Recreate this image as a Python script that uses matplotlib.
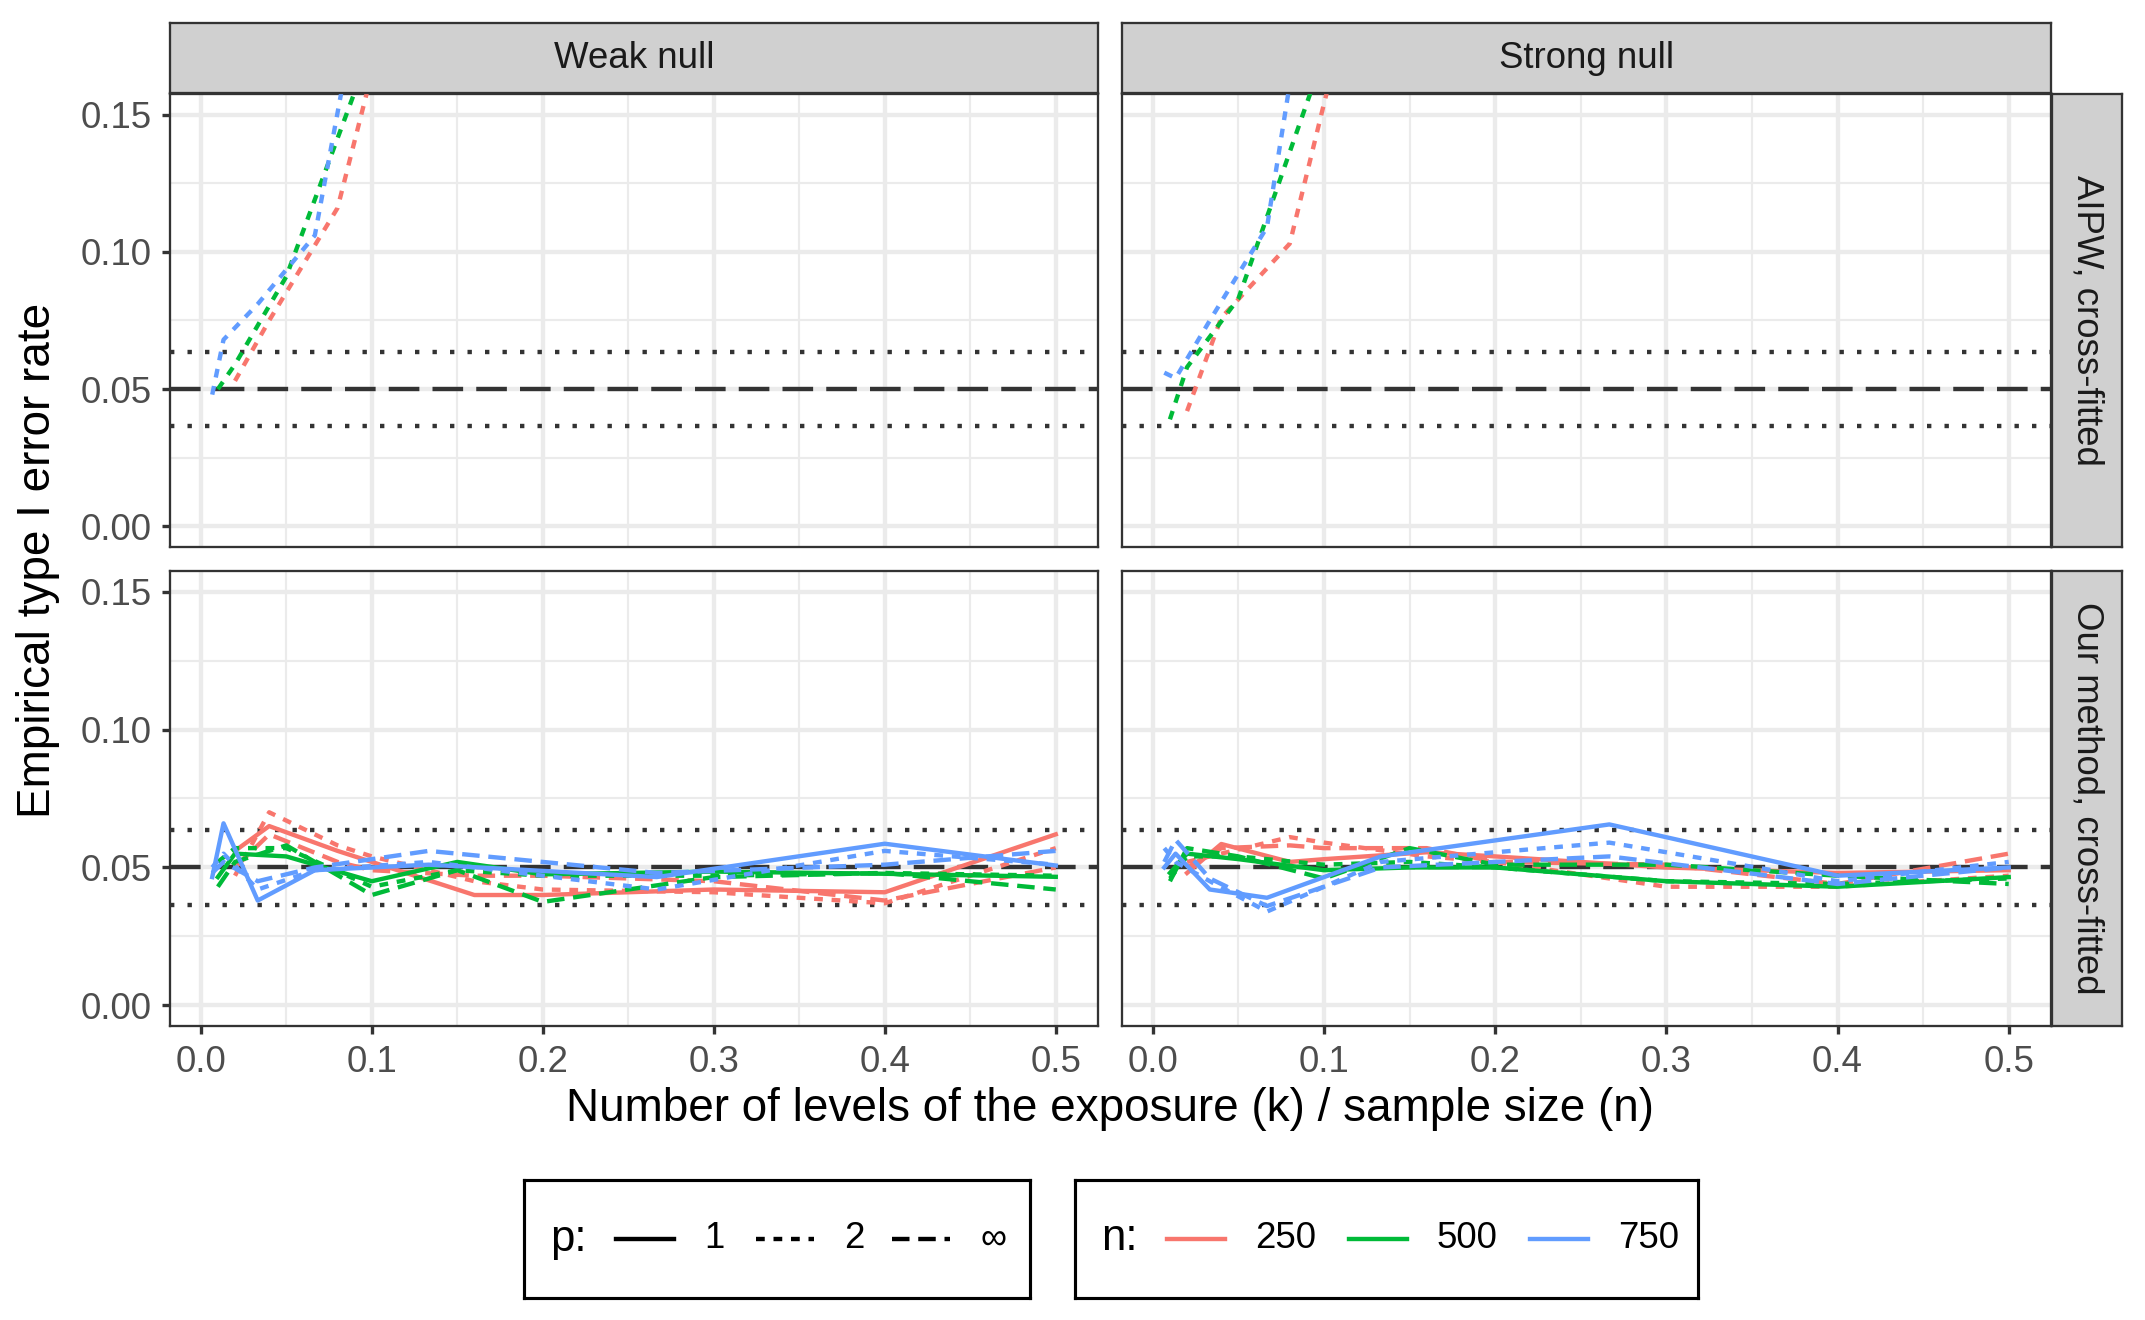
import matplotlib
matplotlib.use("Agg")
import matplotlib.pyplot as plt

plt.rcParams['font.family'] = ['Liberation Sans', 'DejaVu Sans']

# k/n values at which each sample size was simulated
x_250 = [0.02, 0.04, 0.08, 0.1, 0.16, 0.2, 0.3, 0.4, 0.5]
x_500 = [0.01, 0.02, 0.05, 0.1, 0.15, 0.2, 0.3, 0.4, 0.5]
x_750 = [0.0067, 0.0133, 0.0333, 0.0667, 0.1333, 0.2667, 0.4, 0.5]

# AIPW, cross-fitted (only p = 2 stays inside the plotted range)
aipw_weak_250_p2 = [0.053, 0.075, 0.116, 0.165, 0.30]
aipw_weak_500_p2 = [0.050, 0.059, 0.091, 0.175, 0.26]
aipw_weak_750_p2 = [0.048, 0.068, 0.081, 0.106, 0.33]
aipw_strong_250_p2 = [0.042, 0.076, 0.103, 0.154, 0.30]
aipw_strong_500_p2 = [0.039, 0.058, 0.083, 0.172, 0.26]
aipw_strong_750_p2 = [0.056, 0.054, 0.075, 0.109, 0.37]

# our method, cross-fitted, weak null
ours_weak_250_p1 = [0.056, 0.065, 0.056, 0.052, 0.040, 0.040, 0.042, 0.041, 0.062]
ours_weak_250_p2 = [0.047, 0.070, 0.058, 0.054, 0.045, 0.042, 0.041, 0.037, 0.057]
ours_weak_250_pinf = [0.050, 0.062, 0.052, 0.049, 0.047, 0.047, 0.045, 0.038, 0.050]
ours_weak_500_p1 = [0.0465, 0.055, 0.054, 0.045, 0.052, 0.0475, 0.0485, 0.0477, 0.0466]
ours_weak_500_p2 = [0.052, 0.057, 0.057, 0.043, 0.049, 0.047, 0.047, 0.048, 0.047]
ours_weak_500_pinf = [0.043, 0.052, 0.058, 0.040, 0.049, 0.0375, 0.0465, 0.048, 0.042]
ours_weak_750_p1 = [0.0465, 0.066, 0.038, 0.049, 0.051, 0.0465, 0.0586, 0.0507]
ours_weak_750_p2 = [0.050, 0.055, 0.042, 0.049, 0.052, 0.042, 0.056, 0.051]
ours_weak_750_pinf = [0.048, 0.052, 0.045, 0.050, 0.056, 0.048, 0.051, 0.056]

# our method, cross-fitted, strong null
ours_strong_250_p1 = [0.048, 0.0585, 0.052, 0.053, 0.0555, 0.054, 0.050, 0.048, 0.049]
ours_strong_250_p2 = [0.052, 0.055, 0.061, 0.059, 0.054, 0.052, 0.043, 0.043, 0.047]
ours_strong_250_pinf = [0.050, 0.057, 0.058, 0.057, 0.057, 0.052, 0.051, 0.044, 0.055]
ours_strong_500_p1 = [0.048, 0.055, 0.053, 0.049, 0.050, 0.050, 0.045, 0.043, 0.0465]
ours_strong_500_p2 = [0.046, 0.054, 0.054, 0.051, 0.052, 0.050, 0.045, 0.044, 0.046]
ours_strong_500_pinf = [0.045, 0.057, 0.054, 0.046, 0.057, 0.051, 0.051, 0.047, 0.044]
ours_strong_750_p1 = [0.050, 0.055, 0.042, 0.039, 0.054, 0.0656, 0.047, 0.050]
ours_strong_750_p2 = [0.057, 0.052, 0.045, 0.034, 0.052, 0.059, 0.045, 0.052]
ours_strong_750_pinf = [0.052, 0.060, 0.046, 0.036, 0.050, 0.054, 0.044, 0.050]

nominal = 0.05
band = [0.0365, 0.0635]

x_ticks = [0.0, 0.1, 0.2, 0.3, 0.4, 0.5]
y_ticks = [0.00, 0.05, 0.10, 0.15]
col_labels = ["Weak null", "Strong null"]
row_labels = ["AIPW, cross-fitted", "Our method, cross-fitted"]
n_levels = [250, 500, 750]
p_labels = ["1", "2", "\u221e"]

colors = {250: '#F8766D', 500: '#00BA38', 750: '#619CFF'}
styles = {"1": '-', "2": (0, (2, 2)), "\u221e": (0, (4, 2))}
xs = {250: x_250, 500: x_500, 750: x_750}

panels = {
    (0, 0): {"2": {250: aipw_weak_250_p2, 500: aipw_weak_500_p2, 750: aipw_weak_750_p2}},
    (0, 1): {"2": {250: aipw_strong_250_p2, 500: aipw_strong_500_p2, 750: aipw_strong_750_p2}},
    (1, 0): {"1": {250: ours_weak_250_p1, 500: ours_weak_500_p1, 750: ours_weak_750_p1},
             "2": {250: ours_weak_250_p2, 500: ours_weak_500_p2, 750: ours_weak_750_p2},
             "\u221e": {250: ours_weak_250_pinf, 500: ours_weak_500_pinf, 750: ours_weak_750_pinf}},
    (1, 1): {"1": {250: ours_strong_250_p1, 500: ours_strong_500_p1, 750: ours_strong_750_p1},
             "2": {250: ours_strong_250_p2, 500: ours_strong_500_p2, 750: ours_strong_750_p2},
             "\u221e": {250: ours_strong_250_pinf, 500: ours_strong_500_pinf, 750: ours_strong_750_pinf}},
}

W, H = 2145, 1320
LW = 2.1
STRIP = '#D0D0D0'
fig = plt.figure(figsize=(W / 150, H / 150), dpi=150)


def rect(x0, y0, x1, y1):
    # pixel box (top-left origin) -> figure fraction
    return [x0 / W, 1 - y1 / H, (x1 - x0) / W, (y1 - y0) / H]


cols = [(170, 1098), (1122, 2051)]
rows = [(94, 547), (571, 1026)]

for (r, c), lines in panels.items():
    ax = fig.add_axes(rect(cols[c][0], rows[r][0], cols[c][1], rows[r][1]))
    ax.set_xlim(-0.0180, 0.5247)
    ax.set_ylim(-0.0075, 0.1575)
    ax.set_xticks(x_ticks)
    ax.set_xticks([0.05, 0.15, 0.25, 0.35, 0.45], minor=True)
    ax.set_yticks(y_ticks)
    ax.set_yticks([0.025, 0.075, 0.125], minor=True)
    ax.set_axisbelow(True)
    ax.grid(which='major', color='#EBEBEB', lw=LW)
    ax.grid(which='minor', color='#EBEBEB', lw=LW / 2)
    for s in ax.spines.values():
        s.set_color('#333333')
        s.set_linewidth(1.1)
    ax.tick_params(which='major', length=4, width=1.6, color='#333333',
                   labelsize=17.6, labelcolor='#4D4D4D', pad=5,
                   left=(c == 0), bottom=(r == 1))
    ax.tick_params(which='minor', length=0)
    if c == 0:
        ax.set_yticklabels(["%.2f" % v for v in y_ticks])
    else:
        ax.set_yticklabels([])
    if r == 1:
        ax.set_xticklabels(["%.1f" % v for v in x_ticks])
    else:
        ax.set_xticklabels([])

    ax.axhline(nominal, color='#333333', lw=LW, ls=(0, (7, 3)), zorder=2)
    for b in band:
        ax.axhline(b, color='#333333', lw=LW, ls=(0, (1, 3)), zorder=2)

    for n in n_levels:
        for p in p_labels:
            if p not in lines:
                continue
            y = lines[p][n]
            ax.plot(xs[n][:len(y)], y, color=colors[n], ls=styles[p], lw=LW, zorder=3)

# facet strips
for c in range(2):
    sax = fig.add_axes(rect(cols[c][0], 23, cols[c][1], 93))
    sax.set_facecolor(STRIP)
    sax.set_xticks([]); sax.set_yticks([])
    for s in sax.spines.values():
        s.set_color('#333333'); s.set_linewidth(1.1)
    sax.text(0.5, 0.5, col_labels[c], ha='center', va='center', fontsize=17.6,
             color='#1A1A1A', transform=sax.transAxes)
for r in range(2):
    sax = fig.add_axes(rect(2052, rows[r][0], 2122, rows[r][1]))
    sax.set_facecolor(STRIP)
    sax.set_xticks([]); sax.set_yticks([])
    for s in sax.spines.values():
        s.set_color('#333333'); s.set_linewidth(1.1)
    sax.text(0.5, 0.5, row_labels[r], ha='center', va='center', fontsize=17.6,
             color='#1A1A1A', rotation=-90, transform=sax.transAxes)

fig.text(38 / W, 1 - 560 / H, "Empirical type I error rate", rotation=90,
         ha='center', va='center', fontsize=22)
fig.text(1110.5 / W, 1 - 1109 / H, "Number of levels of the exposure (k) / sample size (n)",
         ha='center', va='center', fontsize=22)


def legend_box(x0, x1, title, keys, labels, key_starts):
    y0, y1 = 1180, 1298
    lax = fig.add_axes(rect(x0, y0, x1, y1))
    lax.set_xlim(0, x1 - x0)
    lax.set_ylim(0, y1 - y0)
    lax.set_xticks([]); lax.set_yticks([])
    for s in lax.spines.values():
        s.set_color('black'); s.set_linewidth(1.5)
    mid = (y1 - y0) / 2
    lax.text(26, mid, title, ha='left', va='center', fontsize=21)
    for (col, ls), lab, k in zip(keys, labels, key_starts):
        lax.plot([k, k + 58], [mid, mid], color=col, ls=ls, lw=LW)
        lax.text(k + 88, mid, lab, ha='left', va='center', fontsize=17.6)


legend_box(524, 1030, "p:", [('black', styles[p]) for p in p_labels], p_labels, [92, 232, 368])
legend_box(1075, 1698, "n:", [(colors[n], '-') for n in n_levels],
           [str(n) for n in n_levels], [92, 274, 455])

fig.savefig("out.png", dpi=150)
